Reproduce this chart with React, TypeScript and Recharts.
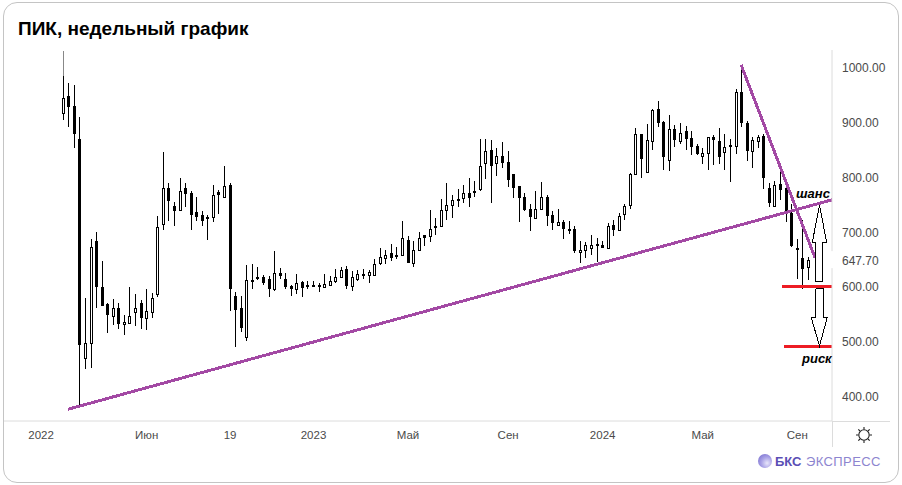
import { ComposedChart, Bar, Line, XAxis, YAxis } from 'recharts';

const opens = [
  917, 948, 930, 869, 469, 497, 682, 598, 568, 546,
  561, 530, 533, 553, 569, 541, 553, 585, 713, 779,
  746, 740, 779, 770, 735, 730, 727, 727, 772, 764,
  785, 583, 561, 507, 611, 617, 616, 613, 594, 625,
  613, 600, 594, 607, 602, 602, 602, 599, 603, 610,
  617, 631, 601, 614, 622, 621, 621, 643, 652, 660,
  658, 657, 684, 643, 667, 693, 692, 710, 710, 740,
  749, 759, 761, 770, 774, 777, 825, 850, 826, 839,
  827, 805, 783, 764, 742, 725, 742, 763, 730, 712,
  717, 705, 704, 663, 667, 670, 677, 675, 670, 712,
  703, 732, 749, 806, 878, 809, 866, 924, 900, 830,
  887, 866, 883, 871, 856, 839, 843, 872, 865, 845,
  858, 856, 955, 899, 848, 866, 875, 780, 747, 787,
  779, 733, 670, 652, 636,
];
const highs = [
  1030, 972, 968, 910, 578, 686, 699, 646, 569, 576,
  569, 547, 598, 585, 574, 594, 587, 728, 845, 788,
  754, 797, 788, 774, 764, 737, 730, 785, 776, 819,
  788, 589, 583, 638, 640, 636, 620, 618, 664, 633,
  625, 602, 622, 609, 610, 609, 606, 622, 618, 631,
  635, 637, 627, 630, 631, 629, 649, 669, 666, 677,
  671, 719, 691, 682, 699, 694, 739, 724, 759, 788,
  766, 777, 785, 797, 792, 869, 869, 867, 852, 863,
  847, 805, 783, 770, 750, 775, 790, 766, 737, 742,
  722, 719, 711, 682, 680, 693, 688, 682, 715, 721,
  734, 750, 807, 889, 878, 897, 924, 939, 903, 914,
  895, 898, 893, 883, 861, 852, 872, 876, 889, 878,
  869, 960, 1005, 903, 872, 877, 878, 789, 793, 808,
  782, 750, 686, 721, 653,
];
const lows = [
  904, 891, 853, 383, 449, 451, 561, 564, 515, 529,
  522, 511, 532, 527, 522, 520, 541, 581, 703, 719,
  710, 739, 745, 702, 720, 710, 685, 718, 732, 764,
  555, 488, 517, 500, 595, 612, 603, 581, 592, 614,
  595, 583, 585, 581, 595, 599, 590, 599, 603, 606,
  615, 594, 592, 610, 613, 606, 620, 639, 641, 647,
  649, 655, 642, 636, 666, 673, 681, 693, 708, 721,
  725, 745, 752, 745, 764, 775, 796, 752, 802, 816,
  781, 761, 717, 737, 701, 725, 742, 710, 703, 711,
  686, 695, 661, 643, 652, 657, 644, 669, 670, 692,
  703, 721, 742, 806, 798, 809, 849, 892, 813, 811,
  855, 860, 849, 840, 840, 823, 813, 822, 823, 813,
  791, 842, 892, 829, 817, 853, 777, 744, 744, 758,
  717, 672, 614, 595, 611,
];
const closes = [
  944, 928, 878, 493, 497, 671, 599, 564, 547, 560,
  530, 534, 545, 560, 541, 554, 578, 708, 779, 755,
  738, 775, 769, 731, 727, 720, 724, 766, 766, 783,
  594, 557, 524, 611, 608, 615, 606, 594, 624, 619,
  599, 594, 605, 596, 601, 600, 599, 604, 609, 616,
  629, 600, 616, 622, 619, 626, 641, 653, 658, 652,
  657, 688, 643, 666, 688, 689, 704, 706, 739, 748,
  757, 756, 770, 761, 773, 819, 847, 819, 839, 825,
  794, 780, 761, 739, 727, 741, 763, 728, 716, 717,
  705, 701, 665, 667, 675, 675, 674, 670, 710, 703,
  728, 747, 806, 878, 833, 867, 922, 899, 837, 887,
  868, 880, 870, 855, 841, 843, 872, 868, 837, 854,
  855, 955, 899, 848, 867, 872, 797, 752, 785, 776,
  734, 674, 668, 632, 648,
];

const xTicks = [-4, 15, 30, 45, 62, 80, 97, 115, 132];
const xLabels = ['2022', 'Июн', '19', '2023', 'Май', 'Сен', '2024', 'Май', 'Сен'];
const yTicks = [400, 500, 600, 647.7, 700, 800, 900, 1000];

const longTrend = [{ x: 0.85, y: 375 }, { x: 138.25, y: 758 }];
const fallTrend = [{ x: 121.9, y: 1005 }, { x: 135.2, y: 652 }];
const stopLevel = [{ x: 129.3, y: 600 }, { x: 138.25, y: 600 }];
const riskLevel = [{ x: 129.6, y: 489 }, { x: 138.25, y: 489 }];
const arrowUp = [
  { x: 135.2, y: 608 }, { x: 135.2, y: 680 }, { x: 134.7, y: 680 }, { x: 136, y: 748 },
  { x: 137.3, y: 680 }, { x: 136.5, y: 680 }, { x: 136.5, y: 608 }, { x: 135.2, y: 608 },
];
const arrowDown = [
  { x: 135.3, y: 595 }, { x: 135.3, y: 543 }, { x: 134.5, y: 543 }, { x: 136, y: 491 },
  { x: 137.4, y: 543 }, { x: 136.7, y: 543 }, { x: 136.7, y: 595 }, { x: 135.3, y: 595 },
];

const rows = opens.map((open, i) => ({
  x: i,
  open,
  high: highs[i],
  low: lows[i],
  close: closes[i],
  range: [lows[i], highs[i]],
}));

// the top of the first wick is faded in the source picture
const fadedAbove = 985;

const Candle = (props: any) => {
  const { x, y, width, height, payload, index } = props;
  const { open, high, low, close } = payload;
  const k = height / (high - low);
  const cx = Math.floor(x + width / 2) + 0.5;
  const top = Math.round(y + (high - Math.max(open, close)) * k);
  const bottom = Math.round(y + (high - Math.min(open, close)) * k);
  const up = close >= open;
  return (
    <g shapeRendering="crispEdges">
      <line x1={cx} x2={cx} y1={y} y2={y + height} stroke="#000" />
      {index === 0 && (
        <line x1={cx} x2={cx} y1={y} y2={y + (high - fadedAbove) * k} stroke="#888" />
      )}
      {up ? (
        <rect x={cx - 1} y={top + 0.5} width={2} height={Math.max(1, bottom - top)} fill="#fff" stroke="#000" />
      ) : (
        <rect x={cx - 1.5} y={top} width={3} height={Math.max(2, bottom - top)} fill="#000" />
      )}
    </g>
  );
};

const PriceTick = (props: any) => {
  const { y, payload } = props;
  const last = payload.value === 647.7;
  return (
    <g>
      {last && <rect x={830} y={y - 9} width={20} height={17} fill="#fff" />}
      <text x={842} y={y + 5} fontSize={12} fill="#4a4a4a" fontFamily="Liberation Sans">
        {payload.value.toFixed(2)}
      </text>
    </g>
  );
};

const overlay = (data: { x: number; y: number }[], stroke: string, strokeWidth: number) => (
  <Line
    data={data}
    dataKey="y"
    dot={false}
    activeDot={false}
    stroke={stroke}
    strokeWidth={strokeWidth}
    isAnimationActive={false}
    shapeRendering="crispEdges"
  />
);

const SunIcon = () => (
  <svg width={18} height={18} viewBox="0 0 18 18" style={{ position: 'absolute', left: 855, top: 426 }}>
    <circle cx={9} cy={9} r={5.2} fill="none" stroke="#222" strokeWidth={1.1} />
    <path
      d="M9 1V3.4M9 14.6V17M1 9H3.4M14.6 9H17M3.3 3.3L5 5M13 13L14.7 14.7M14.7 3.3L13 5M5 13L3.3 14.7"
      stroke="#222"
      strokeWidth={1.1}
    />
  </svg>
);

const Logo = () => (
  <div style={{ position: 'absolute', left: 757, top: 453, width: 130, height: 16, fontFamily: 'Liberation Sans' }}>
    <div
      style={{
        position: 'absolute',
        left: 1,
        top: 1,
        width: 14,
        height: 14,
        borderRadius: 7,
        background: 'radial-gradient(circle at 65% 65%, #e8e6fa 0%, #a9a2e6 45%, #6e63c9 100%)',
      }}
    />
    <span style={{ position: 'absolute', left: 18, top: 1, fontSize: 13, fontWeight: 700, color: '#5a4eb5' }}>БКС</span>
    <span style={{ position: 'absolute', left: 49, top: 1, fontSize: 13, letterSpacing: 0.4, color: '#8d85cf' }}>ЭКСПРЕСС</span>
  </div>
);

const noteStyle = {
  position: 'absolute' as const,
  fontFamily: 'Liberation Sans',
  fontWeight: 700,
  fontStyle: 'italic',
  fontSize: 13,
  color: '#000',
  lineHeight: '15px',
};

export default function App() {
  return (
    <div style={{ position: 'absolute', left: 0, top: 0, width: 902, height: 485, background: '#fff', overflow: 'hidden' }}>
      <div
        style={{
          position: 'absolute',
          left: 3,
          top: 2,
          width: 894,
          height: 479,
          border: '1px solid #c4c4c4',
          borderRadius: 14,
        }}
      />
      <div
        style={{
          position: 'absolute',
          left: 18,
          top: 18,
          fontFamily: 'Liberation Sans',
          fontWeight: 700,
          fontSize: 19,
          lineHeight: '22px',
          color: '#000',
        }}
      >
        ПИК, недельный график
      </div>
      <div style={{ position: 'absolute', left: 832, top: 421, width: 58, height: 1, background: '#dcdcdc' }} />
      <div style={{ position: 'absolute', left: 832, top: 421, width: 1, height: 26, background: '#dcdcdc' }} />
      <ComposedChart
        width={902}
        height={485}
        data={rows}
        margin={{ top: 50, right: 0, bottom: 0, left: 4 }}
        style={{ position: 'absolute', left: 0, top: 0 }}
      >
        <XAxis
          dataKey="x"
          type="number"
          domain={[-10.665, 138.25]}
          ticks={xTicks}
          interval={0}
          height={64}
          allowDataOverflow
          tickLine={false}
          tickMargin={4}
          axisLine={{ stroke: '#dcdcdc' }}
          tick={{ fontSize: 11.5, fill: '#4a4a4a', fontFamily: 'Liberation Sans' }}
          tickFormatter={(v: number) => xLabels[xTicks.indexOf(v)]}
        />
        <YAxis
          orientation="right"
          type="number"
          domain={[353.5, 1032]}
          ticks={yTicks}
          interval={0}
          width={70}
          allowDataOverflow
          tickLine={false}
          axisLine={{ stroke: '#dcdcdc' }}
          tick={<PriceTick />}
        />
        <Bar dataKey="range" barSize={5} shape={<Candle />} isAnimationActive={false} />
        {overlay(longTrend, '#a349a4', 3)}
        {overlay(fallTrend, '#a349a4', 3)}
        {overlay(stopLevel, '#ed1c24', 3)}
        {overlay(riskLevel, '#ed1c24', 3)}
        {overlay(arrowUp, '#000', 1)}
        {overlay(arrowDown, '#000', 1)}
      </ComposedChart>
      <div style={{ ...noteStyle, left: 796, top: 186 }}>шанс</div>
      <div style={{ ...noteStyle, left: 802, top: 351 }}>риск</div>
      <SunIcon />
      <Logo />
    </div>
  );
}
